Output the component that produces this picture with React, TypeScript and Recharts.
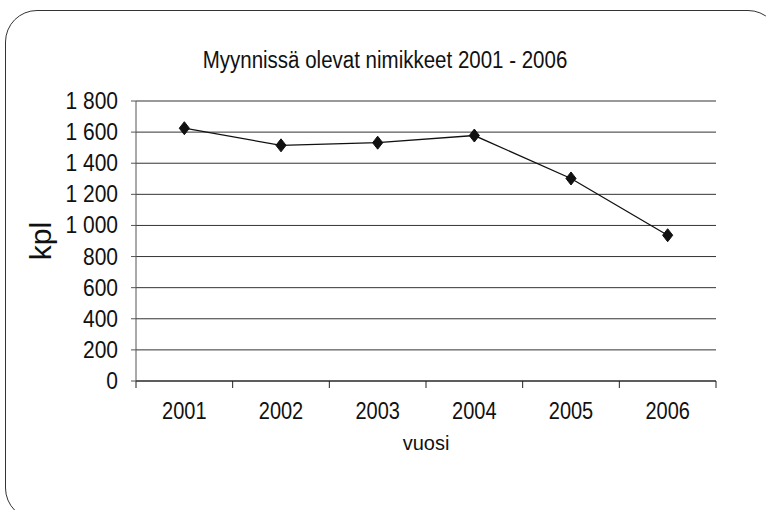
import React from "react";
import {
  LineChart,
  Line,
  XAxis,
  YAxis,
  CartesianGrid,
  ReferenceLine,
  Label,
} from "recharts";

const years = ["2001", "2002", "2003", "2004", "2005", "2006"];
const items = [1625, 1515, 1532, 1578, 1302, 937];
const yTicks = [0, 200, 400, 600, 800, 1000, 1200, 1400, 1600, 1800];

const data = years.map((y, i) => ({ year: y, value: items[i] }));

const FONT = "'Liberation Sans', Arial, Helvetica, sans-serif";
const STRETCH = 1.17;

const fmt = (v: number) =>
  v >= 1000 ? `${Math.floor(v / 1000)} ${String(v % 1000).padStart(3, "0")}` : String(v);

const Diamond = (props: any) => {
  const { cx, cy } = props;
  if (cx == null || cy == null) return null;
  const r = 6.5;
  return (
    <path
      d={`M${cx},${cy - r} L${cx + r * 0.78},${cy} L${cx},${cy + r} L${cx - r * 0.78},${cy} Z`}
      fill="#111"
      stroke="#111"
    />
  );
};

const XTick = (props: any) => {
  const { x, y, payload, index, visibleTicksCount } = props;
  const off = payload && payload.offset ? payload.offset : 48.3;
  const last = index === (visibleTicksCount ?? years.length) - 1;
  return (
    <g>
      <line x1={x - off} y1={y - 8} x2={x - off} y2={y - 1} stroke="#222" strokeWidth={1} />
      {last && <line x1={x + off} y1={y - 8} x2={x + off} y2={y - 1} stroke="#222" strokeWidth={1} />}
      <g transform={`translate(${x},${y + 30}) scale(1,${STRETCH})`}>
        <text x={0} y={0} textAnchor="middle" fontFamily={FONT} fontSize={20} fill="#111">
          {payload.value}
        </text>
      </g>
    </g>
  );
};

const YTick = (props: any) => {
  const { x, y, payload } = props;
  return (
    <g transform={`translate(${x},${y + 8}) scale(1,${STRETCH})`}>
      <text x={0} y={0} textAnchor="end" fontFamily={FONT} fontSize={21} fill="#111">
        {fmt(payload.value)}
      </text>
    </g>
  );
};

export default function App() {
  return (
    <div
      style={{
        position: "absolute",
        left: 0,
        top: 0,
        width: 766,
        height: 510,
        overflow: "hidden",
        background: "#fff",
      }}
    >
      <div
        style={{
          position: "absolute",
          left: 5,
          top: 10,
          width: 775,
          height: 510,
          border: "1.5px solid #333",
          borderRadius: 32,
          boxSizing: "border-box",
        }}
      />
      <div
        style={{
          position: "absolute",
          left: 0,
          top: 46,
          width: 770,
          textAlign: "center",
          fontFamily: FONT,
          fontSize: 20.5,
          color: "#111",
          lineHeight: "28px",
          transform: `scaleY(${STRETCH})`,
        }}
      >
        Myynnissä olevat nimikkeet 2001 - 2006
      </div>
      <div style={{ position: "absolute", left: 0, top: 0 }}>
        <LineChart
          width={766}
          height={510}
          data={data}
          margin={{ top: 101, right: 50, bottom: 0, left: 0 }}
        >
          <CartesianGrid vertical={false} stroke="#333" strokeWidth={1} />
          <ReferenceLine y={1800} stroke="#999" strokeWidth={1} />
          <XAxis
            dataKey="year"
            scale="band"
            height={129}
            axisLine={{ stroke: "#222", strokeWidth: 1.2 }}
            tickLine={false}
            tick={<XTick />}
            interval={0}
          >
            <Label
              value="vuosi"
              position="insideTop"
              offset={55}
              style={{ fontFamily: FONT, fontSize: 20, fill: "#111" }}
            />
          </XAxis>
          <YAxis
            width={136}
            domain={[0, 1800]}
            ticks={yTicks}
            interval={0}
            axisLine={{ stroke: "#555", strokeWidth: 1 }}
            tickLine={{ stroke: "#555" }}
            tickSize={5}
            tickMargin={13}
            tick={<YTick />}
          >
            <Label
              value="kpl"
              angle={-90}
              position="center"
              dx={-28}
              style={{ fontFamily: FONT, fontSize: 30, fill: "#111" }}
            />
          </YAxis>
          <YAxis
            yAxisId="r"
            orientation="right"
            width={0}
            tick={false}
            tickLine={false}
            axisLine={{ stroke: "#999", strokeWidth: 1 }}
          />
          <Line
            type="linear"
            dataKey="value"
            stroke="#111"
            strokeWidth={1.3}
            dot={<Diamond />}
            activeDot={false}
            isAnimationActive={false}
          />
        </LineChart>
      </div>
    </div>
  );
}
